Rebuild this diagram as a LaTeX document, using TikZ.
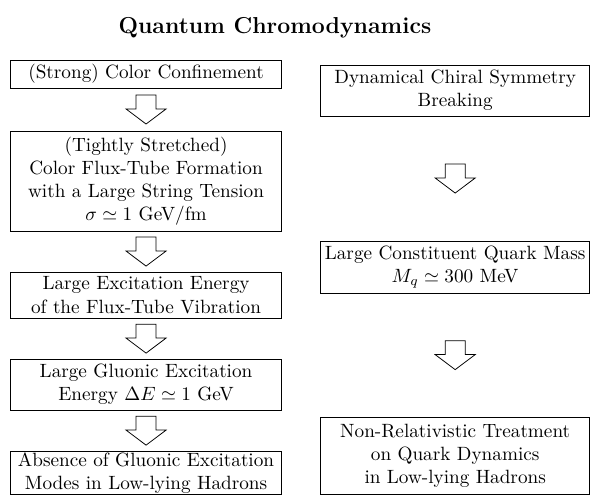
\documentclass[tikz,border=0pt]{standalone}
\usetikzlibrary{calc}
\begin{document}
\begin{tikzpicture}[
  box/.style={draw, rectangle, align=center, inner sep=0pt, text width=4.95cm},
  fatarrow/.pic={\draw (-0.183,0.265) -- (0.183,0.265) -- (0.183,0.01) -- (0.366,0.01) -- (0,-0.265) -- (-0.366,0.01) -- (-0.183,0.01) -- cycle;}
]
\useasboundingbox (0,0) rectangle (10.83,-9.08);
\node[font=\large\bfseries] (title) at (5.03,-0.5) {Quantum Chromodynamics};
% left column
\node[box, minimum height=0.512cm] (conf) at (2.672,-1.354) {(Strong) Color Confinement};
\node[box, minimum height=1.83cm] (flux) at (2.672,-3.312) {(Tightly Stretched)\\Color Flux-Tube Formation\\with a Large String Tension\\\mbox{$\sigma\simeq 1$ GeV/fm}};
\node[box, minimum height=0.842cm] (excit) at (2.672,-5.399) {Large Excitation Energy\\of the Flux-Tube Vibration};
\node[box, minimum height=0.933cm] (gluon) at (2.672,-7.036) {Large Gluonic Excitation\\\mbox{Energy $\Delta E\simeq 1$ GeV}};
\node[box, minimum height=0.787cm] (absence) at (2.672,-8.647) {Absence of Gluonic Excitation\\Modes in Low-lying Hadrons};
% right column
\node[box, text width=4.92cm, minimum height=0.933cm] (chiral) at (8.327,-1.656) {Dynamical Chiral Symmetry\\Breaking};
\node[box, text width=4.92cm, minimum height=0.952cm] (mass) at (8.327,-4.886) {Large Constituent Quark Mass\\\mbox{$M_q\simeq 300$ MeV}};
\node[box, text width=4.92cm, minimum height=1.409cm] (nonrel) at (8.327,-8.336) {Non-Relativistic Treatment\\on Quark Dynamics\\in Low-lying Hadrons};
% arrows
\pic at ($(conf.south)!0.5!(flux.north)$) {fatarrow};
\pic at ($(flux.south)!0.5!(excit.north)$) {fatarrow};
\pic at ($(excit.south)!0.5!(gluon.north)$) {fatarrow};
\pic at ($(gluon.south)!0.5!(absence.north)$) {fatarrow};
\pic at ($(chiral.south)!0.5!(mass.north)$) {fatarrow};
\pic at ($(mass.south)!0.5!(nonrel.north)$) {fatarrow};
\end{tikzpicture}
\end{document}
